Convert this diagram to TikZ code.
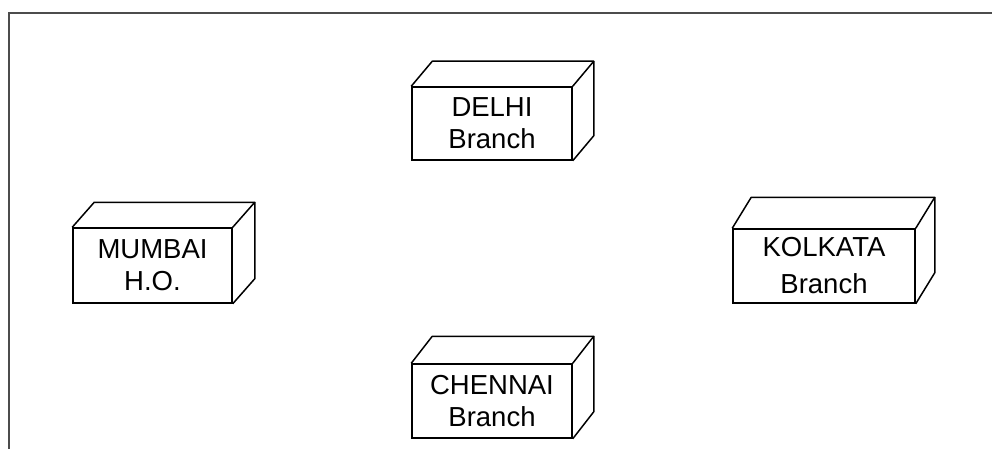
\documentclass[tikz,border=0pt]{standalone}
\usepackage{fontspec}
\setmainfont{Liberation Sans}
\begin{document}
\begin{tikzpicture}
  [x=1pt,y=-1pt,every node/.style={draw,line width=1.5pt,inner sep=0pt,align=center,
   text=black,font=\fontsize{27.5}{32}\selectfont}]
  \useasboundingbox (0,0) rectangle (992,449);
  \draw[line width=2.5pt,black!70] (9,449) |- (992,13);

  \node (delhi) [minimum width=160pt,minimum height=73pt] at (492,123.5) {DELHI\\Branch};
  \node (mumbai) [minimum width=159pt,minimum height=75pt] at (152.5,265.5) {MUMBAI\\H.O.};
  \node (kolkata) [minimum width=182pt,minimum height=74pt] at (824,266) {KOLKATA\\[5pt]Branch};
  \node (chennai) [minimum width=160pt,minimum height=74pt] at (492,401) {CHENNAI\\Branch};

  \foreach \n/\dx/\dy in {delhi/21/25,mumbai/22/25,kolkata/19/31,chennai/21/27}
  {
    \draw[line width=1.5pt,line join=round] (\n.north west) -- ++(\dx,-\dy)
      -- ([shift={(\dx,-\dy)}]\n.north east) -- ([shift={(\dx,-\dy)}]\n.south east)
      -- (\n.south east);
    \draw[line width=1.5pt] (\n.north east) -- ++(\dx,-\dy);
  }

\end{tikzpicture}
\end{document}
